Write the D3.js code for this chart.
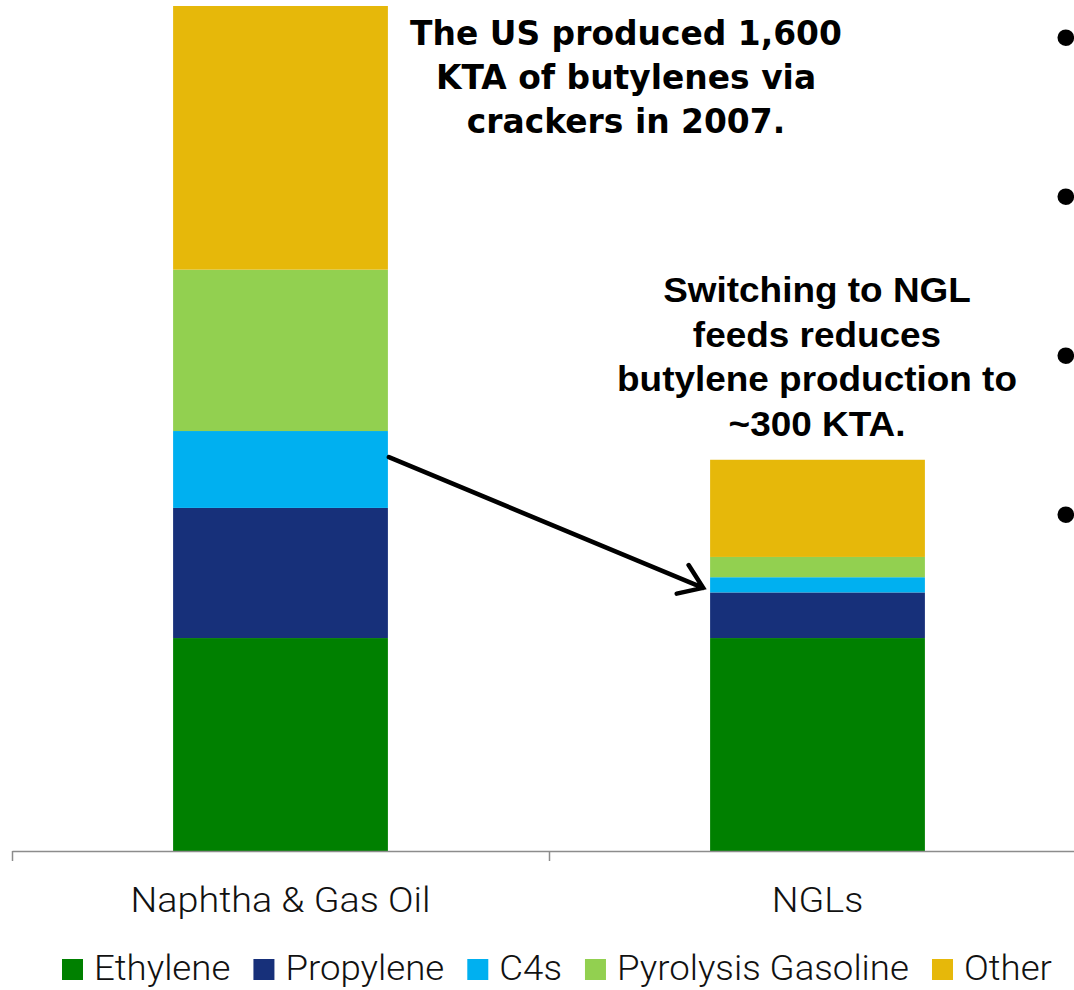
<!DOCTYPE html>
<html>
<head>
<meta charset="utf-8">
<script src="https://cdn.jsdelivr.net/npm/d3@7"></script>
<style>
  html, body { margin: 0; padding: 0; background: #fff; }
  svg { display: block; }
</style>
</head>
<body>
<svg id="chart" width="1074" height="990"></svg>
<script>
// ---------- data ----------
const categories = ["Naphtha & Gas Oil", "NGLs"];
const seriesNames = ["Ethylene", "Propylene", "C4s", "Pyrolysis Gasoline", "Other"];
const ethylene = [25.2, 25.2];
const propylene = [15.4, 5.4];
const c4s = [9.1, 1.8];
const pyrolysisGasoline = [19.1, 2.4];
const other = [31.2, 11.5];
const seriesColors = ["#008000", "#17307a", "#00b0f0", "#92d050", "#e6b80a"];
const noteUS = ["The US produced 1,600", "KTA of butylenes via", "crackers in 2007."];
const noteNGL = ["Switching to NGL", "feeds reduces", "butylene production to", "~300 KTA."];
const bulletRows = [0, 1, 2, 3];

// ---------- setup ----------
const svg = d3.select("#chart");
const seriesValues = [ethylene, propylene, c4s, pyrolysisGasoline, other];
const rows = categories.map((c, i) => {
  const r = { category: c };
  seriesNames.forEach((s, j) => r[s] = seriesValues[j][i]);
  return r;
});
const stacked = d3.stack().keys(seriesNames)(rows);

const x = d3.scaleBand().domain(categories).range([12, 1086]).paddingInner(0.6).paddingOuter(0.3);
const y = d3.scaleLinear().domain([0, 100]).range([851, 6]);
const color = d3.scaleOrdinal().domain(seriesNames).range(seriesColors);

// ---------- bars ----------
svg.append("g").selectAll("g").data(stacked).join("g")
  .attr("fill", d => color(d.key))
  .selectAll("rect").data(d => d).join("rect")
  .attr("x", d => x(d.data.category))
  .attr("width", x.bandwidth())
  .attr("y", d => y(d[1]))
  .attr("height", d => y(d[0]) - y(d[1]));

// ---------- axis ----------
const edge = d3.scaleLinear().domain([0, categories.length]).range(x.range());
const axis = svg.append("g").attr("transform", `translate(0,${y(0)})`)
  .call(d3.axisBottom(edge).tickValues(d3.range(categories.length + 1)).tickFormat("").tickSize(10).tickSizeOuter(0));
axis.selectAll("path,line").attr("stroke", "#8c8c8c").attr("stroke-width", 1.5);

const thinFont = "Roboto, 'Open Sans', sans-serif";

// category labels
const catLabels = svg.append("g").selectAll("text").data(categories).join("text")
  .attr("font-family", thinFont).attr("font-weight", 300).attr("font-size", 35)
  .attr("fill", "#111").attr("text-anchor", "middle")
  .text(d => d);
const kThin = 300 / catLabels.nodes()[0].getComputedTextLength();
catLabels.attr("transform", d => `translate(${x(d) + x.bandwidth() / 2},912) scale(${kThin},1)`);

// ---------- legend ----------
const legend = svg.append("g");
const legTexts = seriesNames.map(s => legend.append("text")
  .attr("font-family", thinFont).attr("font-weight", 300).attr("font-size", 35)
  .attr("fill", "#111").text(s));
const rawTotal = d3.sum(legTexts, t => t.node().getComputedTextLength());
const kLeg = 738 / rawTotal;
let lx = 62;
seriesNames.forEach((s, i) => {
  legend.append("rect").attr("x", lx).attr("y", 959).attr("width", 21).attr("height", 21).attr("fill", color(s));
  const t = legTexts[i];
  const w = t.node().getComputedTextLength() * kLeg;
  t.attr("transform", `translate(${lx + 32},980) scale(${kLeg},1)`);
  lx += 32 + w + 23;
});

// ---------- annotations ----------
function note(lines, cx, baseline0, lineGap, family, size, refIndex, refWidth) {
  const g = svg.append("g");
  const ts = g.selectAll("text").data(lines).join("text")
    .attr("font-family", family).attr("font-weight", "bold").attr("font-size", size)
    .attr("fill", "#000").attr("text-anchor", "middle").text(d => d);
  const k = refWidth / ts.nodes()[refIndex].getComputedTextLength();
  ts.attr("transform", (d, i) => `translate(${cx},${baseline0 + i * lineGap}) scale(${k},1)`);
}
note(noteUS, 626, 45, 44, "Tahoma, 'DejaVu Sans', sans-serif", 34, 0, 432);
note(noteNGL, 817, 302, 44.7, "'Liberation Sans', Arial, sans-serif", 35, 2, 400);

// ---------- arrow ----------
const naph = rows[0], ngl = rows[1];
const x0 = x(naph.category) + x.bandwidth() + 1;
const y0 = y(naph.Ethylene + naph.Propylene + naph.C4s * 0.66);
const x1 = x(ngl.category) - 7;
const y1 = y(ngl.Ethylene + ngl.Propylene + ngl.C4s * 0.3);
const ang = Math.atan2(y1 - y0, x1 - x0);
const headLen = 27, headAng = 35 * Math.PI / 180;
const b1 = [x1 - headLen * Math.cos(ang - headAng), y1 - headLen * Math.sin(ang - headAng)];
const b2 = [x1 - headLen * Math.cos(ang + headAng), y1 - headLen * Math.sin(ang + headAng)];
const ap = d3.path();
ap.moveTo(x0, y0); ap.lineTo(x1, y1);
ap.moveTo(b1[0], b1[1]); ap.lineTo(x1, y1); ap.lineTo(b2[0], b2[1]);
svg.append("path").attr("d", ap.toString())
  .attr("fill", "none").attr("stroke", "#000").attr("stroke-width", 4.5)
  .attr("stroke-linecap", "round").attr("stroke-linejoin", "miter");

// ---------- cut-off bullets at right edge ----------
const bulletY = d3.scaleLinear().domain([0, 3]).range([38, 515]);
svg.append("g").selectAll("text").data(bulletRows).join("text")
  .attr("x", 1055).attr("y", d => bulletY(d) + 20)
  .attr("font-family", "'Liberation Sans', Arial, sans-serif").attr("font-size", 62)
  .attr("fill", "#000").text("•");
</script>
</body>
</html>
